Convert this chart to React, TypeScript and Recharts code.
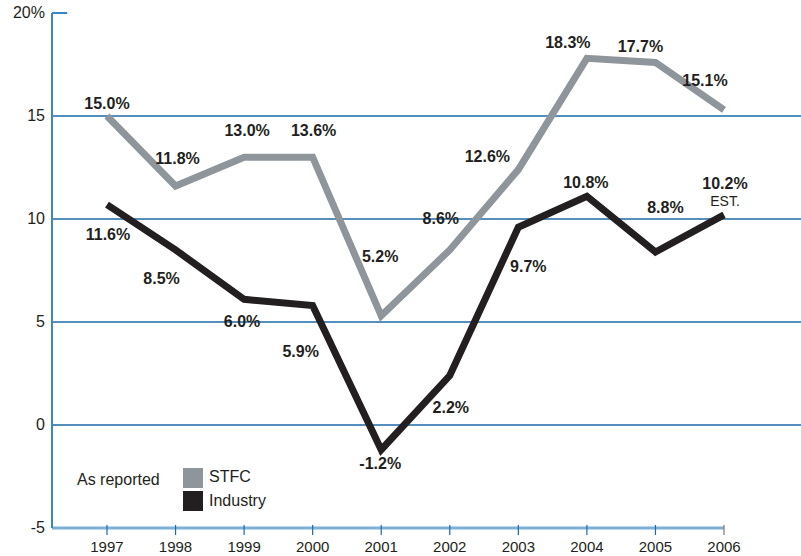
import { LabelList, Line, LineChart, ReferenceLine, XAxis, YAxis } from "recharts";

const years = [1997, 1998, 1999, 2000, 2001, 2002, 2003, 2004, 2005, 2006];
const stfc = [15.0, 11.6, 13.0, 13.0, 5.3, 8.5, 12.4, 17.8, 17.6, 15.3];
const industry = [10.7, 8.5, 6.1, 5.8, -1.2, 2.4, 9.6, 11.1, 8.4, 10.2];
const stfcLabels = ["15.0%", "11.8%", "13.0%", "13.6%", "5.2%", "8.6%", "12.6%", "18.3%", "17.7%", "15.1%"];
const industryLabels = ["11.6%", "8.5%", "6.0%", "5.9%", "-1.2%", "2.2%", "9.7%", "10.8%", "8.8%", "10.2%"];
const yTicks = [-5, 0, 5, 10, 15, 20];

const data = years.map((year, i) => ({
  year,
  stfc: stfc[i],
  industry: industry[i],
  stfcLabel: stfcLabels[i],
  industryLabel: industryLabels[i],
}));

// label nudges relative to each point
const stfcNudge = [[0, -13], [2, -28], [3, -27], [1, -27], [-1, -60], [-9, -32], [-31, -14], [-19, -16], [-15, -16], [-19, -30]];
const industryNudge = [[1, 29], [-14, 28], [-2, 22], [-12, 45], [-1, 13], [1, 31], [10, 39], [-1, -14], [10, -45], [1, -32]];

const FONT = "'Liberation Sans', Arial, Helvetica, sans-serif";
const GRID = "#1d6aa8";

function makeLabel(nudge, est) {
  return (props) => {
    const { x, y, value, index } = props;
    const [dx, dy] = nudge[index];
    return (
      <g>
        <text x={x + dx} y={y + dy + 6} textAnchor="middle" fontFamily={FONT} fontSize={16} fontWeight="bold" fill="#231f20">
          {value}
        </text>
        {est && index === years.length - 1 && (
          <text x={x + dx} y={y + dy + 23} textAnchor="middle" fontFamily={FONT} fontSize={14} fill="#231f20">
            EST.
          </text>
        )}
      </g>
    );
  };
}

const XTick = ({ x, y, payload }) => (
  <g>
    <line x1={x} x2={x} y1={y - 5} y2={y + 5} stroke={payload.value === 2006 ? "#777" : GRID} strokeWidth={1.2} />
    <text x={x} y={y + 22} textAnchor="middle" fontFamily={FONT} fontSize={15} fill="#231f20">
      {payload.value}
    </text>
  </g>
);

const YTick = ({ y, payload }) => (
  <text x={45} y={y + 5} textAnchor="end" fontFamily={FONT} fontSize={16} fill="#231f20">
    {payload.value === 20 ? "20%" : payload.value}
  </text>
);

const LegendBox = () => (
  <div style={{ position: "absolute", left: 77, top: 468, width: 220, height: 50, fontFamily: FONT, fontSize: 16, color: "#231f20" }}>
    <span style={{ position: "absolute", left: 0, top: 3 }}>As reported</span>
    <div style={{ position: "absolute", left: 106, top: 0, width: 20, height: 20, background: "#8f969b" }} />
    <span style={{ position: "absolute", left: 132, top: 0 }}>STFC</span>
    <div style={{ position: "absolute", left: 106, top: 23, width: 20, height: 20, background: "#231f20" }} />
    <span style={{ position: "absolute", left: 132, top: 24 }}>Industry</span>
  </div>
);

export default function App() {
  return (
    <div style={{ position: "absolute", left: 0, top: 0, width: 801, height: 556 }}>
      <LineChart width={801} height={556} data={data} margin={{ top: 13, right: 0, bottom: 0, left: 0 }}>
        <XAxis
          dataKey="year"
          type="number"
          domain={[1996.198, 2007.123]}
          ticks={years}
          axisLine={false}
          tickLine={false}
          tickSize={0}
          tick={<XTick />}
          height={28}
          allowDataOverflow
        />
        <YAxis
          type="number"
          domain={[-5, 20]}
          ticks={yTicks}
          width={52}
          axisLine={{ stroke: "#3b86c4", strokeWidth: 2 }}
          tickLine={false}
          tick={<YTick />}
        />
        {[0, 5, 10, 15].map((v) => (
          <ReferenceLine key={v} y={v} stroke={GRID} strokeWidth={1.4} />
        ))}
        <ReferenceLine segment={[{ x: 1996.198, y: 20 }, { x: 1996.42, y: 20 }]} stroke="#3b86c4" strokeWidth={2} />
        <ReferenceLine segment={[{ x: 1996.198, y: -5 }, { x: 2006, y: -5 }]} stroke="#7db0d8" strokeWidth={3} />
        <Line
          dataKey="stfc"
          type="linear"
          stroke="#8f969b"
          strokeWidth={7}
          dot={false}
          strokeLinejoin="miter"
          isAnimationActive={false}
        >
          <LabelList dataKey="stfcLabel" content={makeLabel(stfcNudge, false)} />
        </Line>
        <Line
          dataKey="industry"
          type="linear"
          stroke="#231f20"
          strokeWidth={7}
          dot={false}
          strokeLinejoin="miter"
          isAnimationActive={false}
        >
          <LabelList dataKey="industryLabel" content={makeLabel(industryNudge, true)} />
        </Line>
      </LineChart>
      <LegendBox />
    </div>
  );
}
